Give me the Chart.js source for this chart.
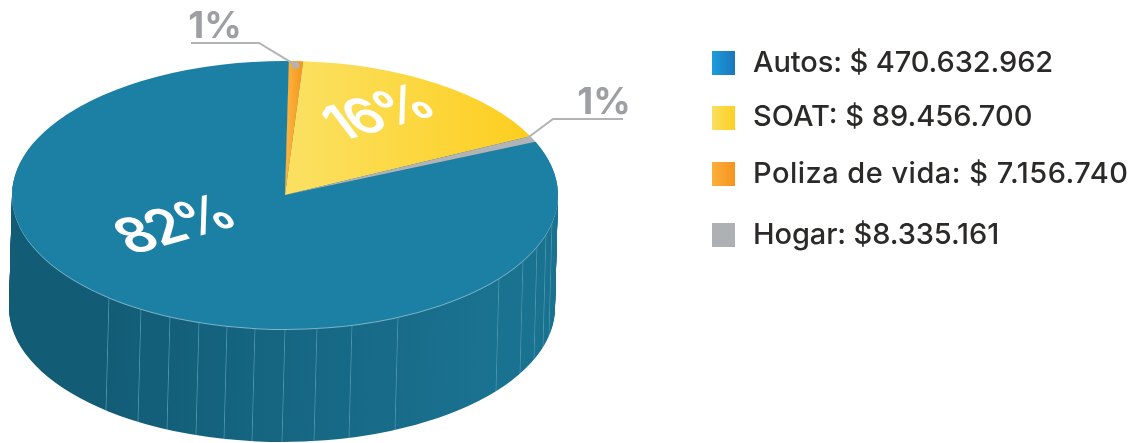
<!DOCTYPE html>
<html>
<head>
<meta charset="utf-8">
<style>
    html, body { margin: 0; padding: 0; background: #fff; overflow: hidden; }
    #wrap { position: relative; width: 1137px; height: 443px; }
    #pie { position: absolute; left: 0; top: 0; }
    .legend-row { position: absolute; left: 753px; font: 500 29px Inter, sans-serif; color: #2b2a29; line-height: 34px; white-space: nowrap; }
    .legend-box { position: absolute; left: 712px; width: 23px; height: 24px; }
</style>
</head>
<body>
<div id="wrap">
    <canvas id="pie" width="1137" height="443"></canvas>
</div>
<script src="https://cdn.jsdelivr.net/npm/chart.js@4"></script>
<script>
// --- DATA ---
const legendNames = ['Autos', 'SOAT', 'Poliza de vida', 'Hogar'];
const legendAmounts = ['$ 470.632.962', '$ 89.456.700', '$ 7.156.740', '$8.335.161'];

// slices clockwise, sweep
const sliceNames = ['Autos', 'Poliza de vida', 'SOAT', 'Hogar'];
const sliceShares = [81.72, 0.83, 16.72, 0.72];
const sliceLabels = ['82%', '1%', '16%', '1%'];

// --- LAYOUT ---
const PIE = { x: 285, y: 195, rx: 273, ry: 134, depth: 113, lean: -3, rotation: 66.6 };
const wallEdges = [109, 141, 170, 199, 227, 255, 285, 317, 352, 398, 499, 523, 537, 546, 552];
const legendTops = [45, 99, 156, 217];
const legendBoxTops = [51, 106, 162, 223];
const legendSpacing = [-0.1, 0, 0.48, -0.1];
const legendFills = [
    ['#1c9ddb', '#1b75bb'],
    ['#f9df60', '#fdcf20'],
    ['#fbb03b', '#f7931e'],
    ['#adb1b4', '#adb1b4']
];

const mix = (a, b, t) => {
    const parts = [a, b].map(c => [1, 3, 5].map(i => parseInt(c.slice(i, i + 2), 16)));
    return `rgb(${parts[0].map((v, i) => Math.round(v + (parts[1][i] - v) * t)).join(',')})`;
};

// horizontal gradient given in picture x positions, for the un-squashed pie space
const pieGradient = (chart, x0, x1) => {
    const { left, right, top, bottom } = chart.chartArea;
    const r = Math.min(right - left, bottom - top) / 2;
    const cx = (left + right) / 2;
    const toPie = x => cx + (x - PIE.x) * r / PIE.rx;
    return chart.ctx.createLinearGradient(toPie(x0), 0, toPie(x1), 0);
};

const sliceFill = (c) => {
    const flat = ['#1c7fa4', '#f8993a', '#fdd63f', '#b1b3b6'][c.dataIndex];
    if (!c.chart.chartArea) return flat;
    if (c.dataIndex === 1) {
        const g = pieGradient(c.chart, 289, 303);
        g.addColorStop(0, '#fbb03b');
        g.addColorStop(1, '#f7931e');
        return g;
    }
    if (c.dataIndex === 2) {
        const g = pieGradient(c.chart, 303, 525);
        g.addColorStop(0, '#fbe05f');
        g.addColorStop(1, '#fdce20');
        return g;
    }
    return flat;
};

const squash = (ctx, arc, dx = 0, dy = 0) => {
    ctx.translate(PIE.x + dx, PIE.y + dy);
    ctx.scale(PIE.rx / arc.outerRadius, PIE.ry / arc.outerRadius);
    ctx.translate(-arc.x, -arc.y);
};

// draws an arc element again with another fill
const drawArcAs = (arc, ctx, fill) => {
    const options = arc.options;
    arc.options = { ...options, backgroundColor: fill, borderWidth: 0 };
    arc.draw(ctx);
    arc.options = options;
};

const wallFill = (chart) => {
    const g = pieGradient(chart, 9, 558);
    const stop = (x, color) => g.addColorStop(Math.min(1, Math.max(0, (x - 9) / 549)), color);
    const base = x => mix('#125c76', '#1a7291', Math.min(1, Math.max(0, (x - 109) / 390)));
    stop(9, base(9));
    wallEdges.forEach(x => {
        stop(x - 0.8, base(x));
        stop(x, mix('#1a7291', '#a8cfdc', 0.36));
        stop(x + 0.8, base(x + 1));
    });
    stop(558, base(558));
    return g;
};

// side wall of the pie and the squash of the top face
const pie3d = {
    id: 'pie3d',
    beforeDatasetsDraw(chart) {
        const ctx = chart.ctx;
        const arcs = chart.getDatasetMeta(0).data;
        const fill = wallFill(chart);
        for (let d = PIE.depth; d >= 1; d--) {
            ctx.save();
            squash(ctx, arcs[0], PIE.lean * d / PIE.depth, d);
            arcs.forEach(arc => drawArcAs(arc, ctx, fill));
            ctx.restore();
        }
        // light rim along the front edge
        ctx.save();
        squash(ctx, arcs[0], 0, 1);
        drawArcAs(arcs[0], ctx, '#7fb3c5');
        ctx.restore();
        ctx.save();
        squash(ctx, arcs[0]);
    },
    afterDatasetsDraw(chart) {
        const ctx = chart.ctx;
        ctx.restore();
        const arcs = chart.getDatasetMeta(0).data;

        const rimPoint = (arc, f) => {
            const mid = (arc.startAngle + arc.endAngle) / 2;
            return { x: PIE.x + Math.cos(mid) * PIE.rx * f, y: PIE.y + Math.sin(mid) * PIE.ry * f };
        };

        // leader lines
        const leader = (from, elbow, end) => {
            ctx.beginPath();
            ctx.moveTo(from[0], from[1]);
            ctx.lineTo(elbow[0], elbow[1]);
            ctx.lineTo(end.x, end.y);
            ctx.strokeStyle = '#b1b3b6';
            ctx.lineWidth = 2;
            ctx.stroke();
        };
        const orangeEnd = rimPoint(arcs[1], 0.97);
        const greyEnd = rimPoint(arcs[3], 0.96);
        leader([191, 43], [259, 43], orangeEnd);
        leader([623, 119], [553, 119], greyEnd);
        ctx.beginPath();
        ctx.arc(orangeEnd.x, orangeEnd.y, 3.5, 0, Math.PI * 2);
        ctx.fillStyle = '#b1b3b6';
        ctx.fill();

        // grey labels beside the leaders
        ctx.font = '700 37px Inter, sans-serif';
        ctx.fillStyle = '#9d9fa2';
        ctx.textAlign = 'center';
        ctx.textBaseline = 'alphabetic';
        ctx.fillText(sliceLabels[1], 215, 38);
        ctx.fillText(sliceLabels[3], 604, 114);

        // white labels lying on the top face
        const flat = (text, x, y) => {
            ctx.save();
            ctx.transform(0.95, -0.27, 0.62, 0.82, x, y);
            ctx.font = '600 54px Inter, sans-serif';
            ctx.letterSpacing = '-3px';
            ctx.fillStyle = '#fff';
            ctx.fillText(text, 0, 0);
            ctx.restore();
        };
        flat(sliceLabels[0], 185, 240);
        flat(sliceLabels[2], 389, 128);
    }
};

new Chart(document.getElementById('pie'), {
    type: 'doughnut',
    data: {
        labels: sliceNames,
        datasets: [{ data: sliceShares, backgroundColor: sliceFill, borderWidth: 0, hoverOffset: 0 }]
    },
    options: {
        responsive: false,
        animation: false,
        cutout: 0,
        rotation: PIE.rotation,
        layout: { padding: 0 },
        plugins: { legend: { display: false }, tooltip: { enabled: false } }
    },
    plugins: [pie3d]
});

// --- LEGEND ---
const wrap = document.getElementById('wrap');
legendNames.forEach((name, i) => {
    const box = document.createElement('div');
    box.className = 'legend-box';
    box.style.top = `${legendBoxTops[i]}px`;
    box.style.background = `linear-gradient(to right, ${legendFills[i][0]}, ${legendFills[i][1]})`;
    wrap.appendChild(box);

    const row = document.createElement('div');
    row.className = 'legend-row';
    row.style.top = `${legendTops[i]}px`;
    row.style.letterSpacing = `${legendSpacing[i]}px`;
    row.textContent = `${name}: ${legendAmounts[i]}`;
    wrap.appendChild(row);
});
</script>
</body>
</html>
